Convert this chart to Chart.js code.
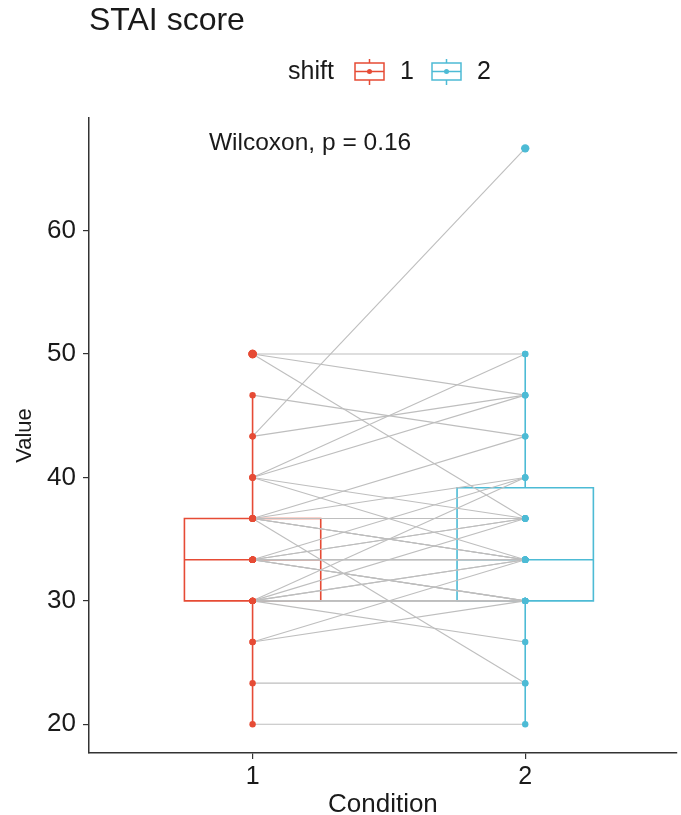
<!DOCTYPE html>
<html>
<head>
<meta charset="utf-8">
<script src="https://cdn.jsdelivr.net/npm/chart.js@4.4.1/dist/chart.umd.min.js"></script>
<style>
html, body { margin: 0; padding: 0; background: #fff; }
</style>
</head>
<body>
<canvas id="stai-chart" width="681" height="815"></canvas>
<script>
const conditions = [1, 2];
const shiftLabels = ["1", "2"];
const shiftColors = ["#E64B35", "#4DBBD5"];
const yTicks = [20, 30, 40, 50, 60];

// one entry per participant: score in condition 1 and in condition 2
const scoreCond1 = [
  50, 50, 50,
  46.67,
  43.33, 43.33,
  40, 40, 40, 40,
  36.67, 36.67, 36.67, 36.67, 36.67, 36.67, 36.67, 36.67, 36.67,
  33.33, 33.33, 33.33, 33.33, 33.33, 33.33, 33.33, 33.33, 33.33, 33.33,
  30, 30, 30, 30, 30, 30, 30, 30, 30,
  26.67, 26.67,
  23.33,
  20
];
const scoreCond2 = [
  50, 46.67, 36.67,
  43.33,
  66.67, 46.67,
  50, 46.67, 36.67, 33.33,
  43.33, 40, 23.33, 36.67, 36.67, 36.67, 33.33, 33.33, 33.33,
  40, 36.67, 36.67, 33.33, 33.33, 33.33, 33.33, 30, 30, 30,
  40, 36.67, 33.33, 33.33, 30, 30, 30, 30, 26.67,
  30, 33.33,
  23.33,
  20
];
const scores = [scoreCond1, scoreCond2];

function quantile(sorted, p) {
  const pos = (sorted.length - 1) * p;
  const lo = Math.floor(pos);
  const hi = Math.ceil(pos);
  return sorted[lo] + (sorted[hi] - sorted[lo]) * (pos - lo);
}

function boxStats(values) {
  const s = [...values].sort((a, b) => a - b);
  const q1 = quantile(s, 0.25);
  const med = quantile(s, 0.5);
  const q3 = quantile(s, 0.75);
  const iqr = q3 - q1;
  const inside = s.filter(v => v >= q1 - 1.5 * iqr && v <= q3 + 1.5 * iqr);
  return {
    q1, med, q3,
    lo: inside[0],
    hi: inside[inside.length - 1],
    out: s.filter(v => v < q1 - 1.5 * iqr || v > q3 + 1.5 * iqr)
  };
}
const stats = scores.map(boxStats);

const FONT = "'Liberation Sans', Arial, sans-serif";

const boxPlugin = {
  id: "boxes",
  beforeDatasetsDraw(chart) {
    const ctx = chart.ctx;
    const x = chart.scales.x;
    const y = chart.scales.y;
    stats.forEach((st, i) => {
      const c = conditions[i];
      const xl = x.getPixelForValue(c - 0.25);
      const xr = x.getPixelForValue(c + 0.25);
      const xc = x.getPixelForValue(c);
      ctx.save();
      ctx.strokeStyle = shiftColors[i];
      ctx.lineWidth = 1.6;
      ctx.beginPath();
      ctx.rect(xl, y.getPixelForValue(st.q3), xr - xl, y.getPixelForValue(st.q1) - y.getPixelForValue(st.q3));
      ctx.moveTo(xl, y.getPixelForValue(st.med));
      ctx.lineTo(xr, y.getPixelForValue(st.med));
      ctx.moveTo(xc, y.getPixelForValue(st.q3));
      ctx.lineTo(xc, y.getPixelForValue(st.hi));
      ctx.moveTo(xc, y.getPixelForValue(st.q1));
      ctx.lineTo(xc, y.getPixelForValue(st.lo));
      ctx.stroke();
      ctx.restore();
    });
  },
  afterDraw(chart) {
    const ctx = chart.ctx;
    const x = chart.scales.x;
    const y = chart.scales.y;
    ctx.save();
    ctx.fillStyle = "#1a1a1a";
    ctx.textBaseline = "alphabetic";
    // title is aligned with the left edge of the panel
    ctx.font = "32px " + FONT;
    ctx.fillText("STAI score", chart.chartArea.left, 30);

    ctx.textBaseline = "middle";
    ctx.font = "25px " + FONT;
    ctx.fillText("shift", 288, 72);
    const keyX = [355, 432];
    const txtX = [400, 477];
    shiftLabels.forEach((lab, i) => {
      const kx = keyX[i];
      ctx.strokeStyle = shiftColors[i];
      ctx.fillStyle = shiftColors[i];
      ctx.lineWidth = 1.5;
      ctx.beginPath();
      ctx.rect(kx, 63, 29, 17);
      ctx.moveTo(kx, 71.5);
      ctx.lineTo(kx + 29, 71.5);
      ctx.moveTo(kx + 14.5, 59);
      ctx.lineTo(kx + 14.5, 63);
      ctx.moveTo(kx + 14.5, 80);
      ctx.lineTo(kx + 14.5, 85);
      ctx.stroke();
      ctx.beginPath();
      ctx.arc(kx + 14.5, 71.5, 2.5, 0, Math.PI * 2);
      ctx.fill();
      ctx.fillStyle = "#1a1a1a";
      ctx.fillText(lab, txtX[i], 72);
    });

    ctx.font = "24.5px " + FONT;
    ctx.fillText("Wilcoxon, p = 0.16", x.getPixelForValue(0.84), y.getPixelForValue(67.1));
    ctx.restore();
  }
};

const pairLines = scoreCond1.map((v, i) => ({
  type: "line",
  data: [{ x: conditions[0], y: v }, { x: conditions[1], y: scoreCond2[i] }],
  borderColor: "#BEBEBE",
  borderWidth: 1.1,
  pointRadius: 0,
  order: 3
}));

const pointSets = scores.map((vals, i) => ({
  type: "scatter",
  data: vals.map(v => ({ x: conditions[i], y: v })),
  backgroundColor: shiftColors[i],
  borderColor: shiftColors[i],
  pointRadius: 3.2,
  borderWidth: 0,
  order: 2
}));

const outlierSets = stats.map((st, i) => ({
  type: "scatter",
  data: st.out.map(v => ({ x: conditions[i], y: v })),
  backgroundColor: shiftColors[i],
  borderColor: shiftColors[i],
  pointRadius: 4.2,
  borderWidth: 0,
  order: 1
}));

const ctxStai = document.querySelector("#stai-chart").getContext("2d");

const staiChart = new Chart(ctxStai, {
  type: "scatter",
  data: { datasets: [...pairLines, ...pointSets, ...outlierSets] },
  options: {
    responsive: false,
    animation: false,
    devicePixelRatio: 1,
    layout: { padding: { top: 118, left: 0, right: 0, bottom: 0 } },
    plugins: { legend: { display: false }, tooltip: { enabled: false } },
    scales: {
      x: {
        type: "linear",
        min: 0.4,
        max: 2.556,
        afterBuildTicks: s => { s.ticks = conditions.map(v => ({ value: v })); },
        afterFit: s => { s.height = 62; },
        ticks: {
          callback: v => String(v),
          font: { size: 25, family: FONT },
          color: "#1a1a1a",
          padding: 3,
          maxRotation: 0
        },
        grid: { drawOnChartArea: false, tickLength: 6, color: "#333", lineWidth: 1.2 },
        border: { display: true, color: "#333", width: 1.5 },
        title: {
          display: true,
          text: "Condition",
          font: { size: 26, family: FONT, lineHeight: 1 },
          color: "#1a1a1a",
          padding: { top: 0, bottom: -3 }
        }
      },
      y: {
        min: 17.67,
        max: 69.13,
        afterBuildTicks: s => { s.ticks = yTicks.map(v => ({ value: v })); },
        afterFit: s => { s.width = 89; },
        ticks: {
          font: { size: 26, family: FONT },
          color: "#1a1a1a",
          padding: 7
        },
        grid: { drawOnChartArea: false, tickLength: 6, color: "#333", lineWidth: 1.2 },
        border: { display: true, color: "#333", width: 1.5 },
        title: {
          display: true,
          text: "Value",
          font: { size: 22, family: FONT, lineHeight: 1.2 },
          color: "#1a1a1a",
          padding: { top: 12, bottom: 0 }
        }
      }
    }
  },
  plugins: [boxPlugin]
});
</script>
</body>
</html>
